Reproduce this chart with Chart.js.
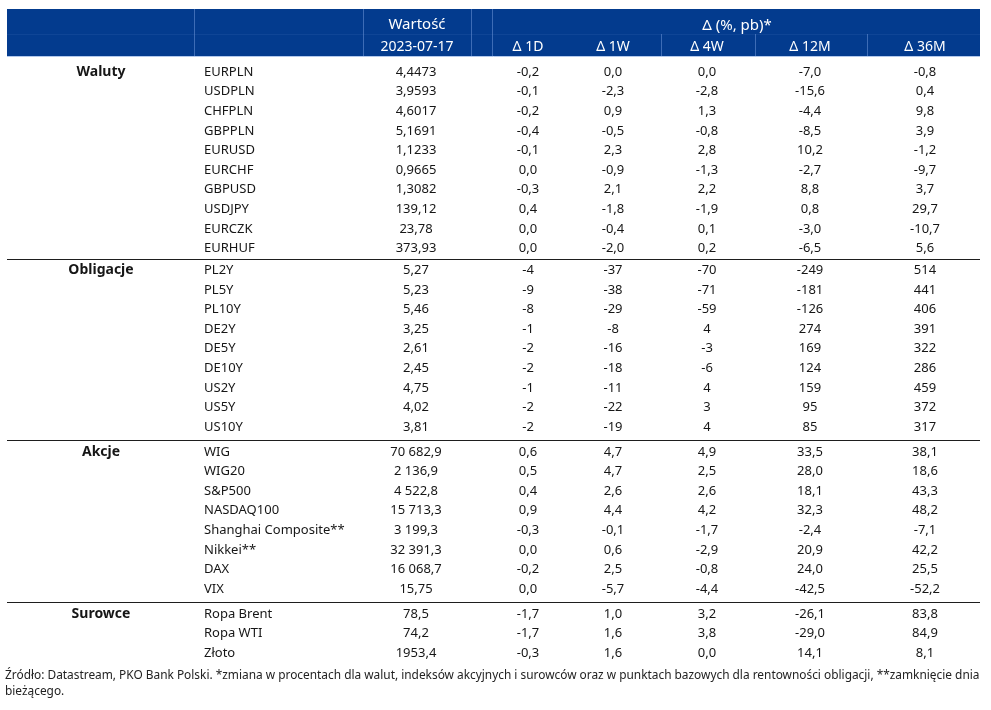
<!DOCTYPE html>
<html lang="pl">
<head>
<meta charset="utf-8">
<title>Rynki – zmiany</title>
<script src="https://cdn.jsdelivr.net/npm/chart.js@4.4.0/dist/chart.umd.min.js"></script>
<style>
    html, body { margin: 0; padding: 0; background: #fff; }
    #wrap { width: 991px; height: 710px; }
</style>
</head>
<body>
<div id="wrap"><canvas id="marketTable" width="991" height="710"></canvas></div>
<script>
// Table data
const groups = ['Waluty', 'Obligacje', 'Akcje', 'Surowce'];
const groupSizes = [10, 9, 8, 3];

const instruments = [
    'EURPLN', 'USDPLN', 'CHFPLN', 'GBPPLN', 'EURUSD', 'EURCHF', 'GBPUSD', 'USDJPY', 'EURCZK', 'EURHUF',
    'PL2Y', 'PL5Y', 'PL10Y', 'DE2Y', 'DE5Y', 'DE10Y', 'US2Y', 'US5Y', 'US10Y',
    'WIG', 'WIG20', 'S&P500', 'NASDAQ100', 'Shanghai Composite**', 'Nikkei**', 'DAX', 'VIX',
    'Ropa Brent', 'Ropa WTI', 'Złoto'
];

const values = [
    4.4473, 3.9593, 4.6017, 5.1691, 1.1233, 0.9665, 1.3082, 139.12, 23.78, 373.93,
    5.27, 5.23, 5.46, 3.25, 2.61, 2.45, 4.75, 4.02, 3.81,
    70682.9, 2136.9, 4522.8, 15713.3, 3199.3, 32391.3, 16068.7, 15.75,
    78.5, 74.2, 1953.4
];
const valueDecimals = [
    4, 4, 4, 4, 4, 4, 4, 2, 2, 2,
    2, 2, 2, 2, 2, 2, 2, 2, 2,
    1, 1, 1, 1, 1, 1, 1, 2,
    1, 1, 1
];

const d1d = [
    -0.2, -0.1, -0.2, -0.4, -0.1, 0.0, -0.3, 0.4, 0.0, 0.0,
    -4, -9, -8, -1, -2, -2, -1, -2, -2,
    0.6, 0.5, 0.4, 0.9, -0.3, 0.0, -0.2, 0.0,
    -1.7, -1.7, -0.3
];
const d1w = [
    0.0, -2.3, 0.9, -0.5, 2.3, -0.9, 2.1, -1.8, -0.4, -2.0,
    -37, -38, -29, -8, -16, -18, -11, -22, -19,
    4.7, 4.7, 2.6, 4.4, -0.1, 0.6, 2.5, -5.7,
    1.0, 1.6, 1.6
];
const d4w = [
    0.0, -2.8, 1.3, -0.8, 2.8, -1.3, 2.2, -1.9, 0.1, 0.2,
    -70, -71, -59, 4, -3, -6, 4, 3, 4,
    4.9, 2.5, 2.6, 4.2, -1.7, -2.9, -0.8, -4.4,
    3.2, 3.8, 0.0
];
const d12m = [
    -7.0, -15.6, -4.4, -8.5, 10.2, -2.7, 8.8, 0.8, -3.0, -6.5,
    -249, -181, -126, 274, 169, 124, 159, 95, 85,
    33.5, 28.0, 18.1, 32.3, -2.4, 20.9, 24.0, -42.5,
    -26.1, -29.0, 14.1
];
const d36m = [
    -0.8, 0.4, 9.8, 3.9, -1.2, -9.7, 3.7, 29.7, -10.7, 5.6,
    514, 441, 406, 391, 322, 286, 459, 372, 317,
    38.1, 18.6, 43.3, 48.2, -7.1, 42.2, 25.5, -52.2,
    83.8, 84.9, 8.1
];

// decimals of the change columns per group, thousands grouping per group
const changeDecimals = [1, 0, 1, 1];
const groupThousands = [false, false, true, false];

const headerTop = ['Wartość', 'Δ (%, pb)*'];
const headerBottom = ['2023-07-17', 'Δ 1D', 'Δ 1W', 'Δ 4W', 'Δ 12M', 'Δ 36M'];
const footnote = [
    'Źródło: Datastream, PKO Bank Polski. *zmiana w procentach dla walut, indeksów akcyjnych i surowców oraz w punktach bazowych dla rentowności obligacji, **zamknięcie dnia',
    'bieżącego.'
];

// Layout
const FONT = '"Noto Sans", "Open Sans", sans-serif';
const TEXT_COLOR = '#161616';
const NAVY = '#033b8e';
const groupGap = [0, 0.12, 0.38, 0.66];          // extra row units before each group
const colX = { group: 101, name: 204, value: 416, d1d: 528, d1w: 613, d4w: 707, d12m: 810, d36m: 925 };

// group index of every row
const rowGroup = [];
groupSizes.forEach((n, g) => { for (let k = 0; k < n; k++) rowGroup.push(g); });
const rowPos = rowGroup.map((g, i) => i + groupGap[g]);

function fmt(v, dec, thousands) {
    let s = Math.abs(v).toFixed(dec);
    let [intPart, frac] = s.split('.');
    if (thousands && intPart.length > 3) intPart = intPart.replace(/\B(?=(\d{3})+(?!\d))/g, ' ');
    return (v < 0 ? '-' : '') + intPart + (frac ? ',' + frac : '');
}

function columnDataset(key, texts, align) {
    return {
        label: key,
        data: rowPos.map(y => ({ x: colX[key], y: y })),
        texts: texts,
        align: align,
        pointRadius: 0
    };
}

function buildDatasets() {
    const firstRows = [];
    let start = 0;
    groupSizes.forEach(n => { firstRows.push(start); start += n; });

    const datasets = [{
        label: 'group',
        data: firstRows.map(i => ({ x: colX.group, y: rowPos[i] })),
        texts: groups,
        align: 'center',
        bold: true,
        pointRadius: 0
    }];
    datasets.push(columnDataset('name', instruments, 'left'));
    datasets.push(columnDataset('value',
        values.map((v, i) => fmt(v, valueDecimals[i], groupThousands[rowGroup[i]])), 'center'));
    [['d1d', d1d], ['d1w', d1w], ['d4w', d4w], ['d12m', d12m], ['d36m', d36m]].forEach(([key, arr]) => {
        datasets.push(columnDataset(key, arr.map((v, i) => fmt(v, changeDecimals[rowGroup[i]], false)), 'center'));
    });
    return datasets;
}

// Draws header band, separators, cell texts and footnote
const tablePlugin = {
    id: 'tableCells',
    beforeDatasetsDraw(chart) {
        const ctx = chart.ctx;
        const yScale = chart.scales.y;
        ctx.save();

        // header band
        ctx.fillStyle = NAVY;
        ctx.fillRect(7, 9, 973, 47);
        ctx.strokeStyle = 'rgba(110, 150, 215, 0.55)';
        ctx.lineWidth = 1;
        [194, 363, 471, 492].forEach(x => {
            ctx.beginPath(); ctx.moveTo(x + 0.5, 9); ctx.lineTo(x + 0.5, 56); ctx.stroke();
        });
        [661, 755, 867].forEach(x => {
            ctx.beginPath(); ctx.moveTo(x + 0.5, 34); ctx.lineTo(x + 0.5, 56); ctx.stroke();
        });
        ctx.strokeStyle = 'rgba(110, 150, 215, 0.12)';
        ctx.beginPath(); ctx.moveTo(7, 34.5); ctx.lineTo(980, 34.5); ctx.stroke();
        ctx.strokeStyle = 'rgba(170, 195, 235, 0.9)';
        ctx.beginPath(); ctx.moveTo(7, 56.5); ctx.lineTo(980, 56.5); ctx.stroke();

        // header texts
        ctx.fillStyle = '#ffffff';
        ctx.font = '14px ' + FONT;
        ctx.textAlign = 'center';
        ctx.textBaseline = 'middle';
        ctx.font = '15px ' + FONT;
        ctx.fillText(headerTop[0], colX.value + 1, 25);
        ctx.fillText(headerTop[1], 737, 26);
        ctx.font = '14px ' + FONT;
        const subX = [colX.value + 1, colX.d1d, colX.d1w, colX.d4w, colX.d12m, colX.d36m];
        headerBottom.forEach((t, i) => ctx.fillText(t, subX[i], 47));

        // group separators
        ctx.strokeStyle = '#1e1e1e';
        ctx.lineWidth = 1.2;
        let last = 0;
        for (let g = 0; g < groupSizes.length - 1; g++) {
            last += groupSizes[g];
            const y = Math.round(yScale.getPixelForValue((rowPos[last - 1] + rowPos[last]) / 2)) + 0.5;
            ctx.beginPath(); ctx.moveTo(7, y); ctx.lineTo(980, y); ctx.stroke();
        }
        ctx.restore();
    },
    afterDatasetsDraw(chart) {
        const ctx = chart.ctx;
        ctx.save();
        ctx.fillStyle = TEXT_COLOR;
        ctx.textBaseline = 'middle';
        chart.data.datasets.forEach((ds, i) => {
            const meta = chart.getDatasetMeta(i);
            ctx.font = (ds.bold ? 'bold 14px ' : '13px ') + FONT;
            ctx.textAlign = ds.align;
            meta.data.forEach((pt, j) => ctx.fillText(ds.texts[j], pt.x, pt.y));
        });

        // footnote, fitted to the table width
        ctx.textAlign = 'left';
        ctx.font = '12px ' + FONT;
        const w = ctx.measureText(footnote[0]).width;
        const size = Math.min(12.5, 12 * 975 / w);
        ctx.font = size.toFixed(2) + 'px ' + FONT;
        ctx.fillStyle = '#222';
        ctx.fillText(footnote[0], 5, 676);
        ctx.fillText(footnote[1], 5, 692);
        ctx.restore();
    }
};

new Chart(document.getElementById('marketTable'), {
    type: 'scatter',
    data: { datasets: buildDatasets() },
    options: {
        responsive: false,
        animation: false,
        events: [],
        layout: { padding: 0 },
        plugins: { legend: { display: false }, tooltip: { enabled: false } },
        scales: {
            x: { type: 'linear', display: false, min: 0, max: 991 },
            y: { type: 'linear', display: false, reverse: true, min: -72 / 19.6, max: (710 - 72) / 19.6 }
        }
    },
    plugins: [tablePlugin]
});
</script>
</body>
</html>
